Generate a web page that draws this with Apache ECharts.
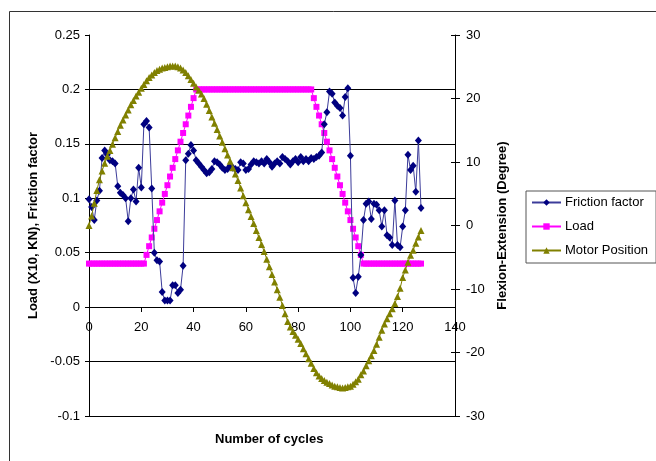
<!DOCTYPE html>
<html>
<head>
<meta charset="utf-8">
<script src="https://cdn.jsdelivr.net/npm/echarts@6/dist/echarts.min.js"></script>
<style>
  html, body { margin: 0; padding: 0; background: #fff; }
  #chart { width: 656px; height: 461px; }
</style>
</head>
<body>
<div id="chart"></div>
<script>
// friction factor per cycle (left axis)
const frictionFactor = [
  0.099, 0.092, 0.080, 0.098, 0.107, 0.137, 0.144, 0.140, 0.135, 0.134,
  0.132, 0.111, 0.105, 0.103, 0.100, 0.079, 0.100, 0.108, 0.097, 0.128,
  0.110, 0.168, 0.171, 0.165, 0.109, 0.050, 0.043, 0.042, 0.014, 0.006,
  0.006, 0.006, 0.020, 0.020, 0.013, 0.016, 0.038, 0.135, 0.141, 0.149,
  0.144, 0.135, 0.132, 0.129, 0.126, 0.123, 0.124, 0.127, 0.134, 0.133,
  0.131, 0.128, 0.126, 0.127, 0.130, 0.128, 0.127, 0.126, 0.133, 0.132,
  0.126, 0.127, 0.131, 0.134, 0.133, 0.132, 0.134, 0.132, 0.136, 0.133,
  0.129, 0.132, 0.134, 0.132, 0.138, 0.136, 0.134, 0.131, 0.134, 0.136,
  0.133, 0.138, 0.134, 0.136, 0.134, 0.137, 0.136, 0.138, 0.139, 0.142,
  0.168, 0.179, 0.198, 0.196, 0.188, 0.185, 0.183, 0.176, 0.193, 0.201,
  0.139, 0.027, 0.013, 0.028, 0.048, 0.080, 0.095, 0.097, 0.081, 0.095,
  0.094, 0.089, 0.074, 0.089, 0.066, 0.064, 0.057, 0.098, 0.057, 0.055,
  0.074, 0.089, 0.140, 0.126, 0.130, 0.106, 0.153, 0.091
];

// load (x10 kN) per cycle (left axis)
const load = [
  0.04, 0.04, 0.04, 0.04, 0.04, 0.04, 0.04, 0.04, 0.04, 0.04,
  0.04, 0.04, 0.04, 0.04, 0.04, 0.04, 0.04, 0.04, 0.04, 0.04,
  0.04, 0.04, 0.048, 0.056, 0.064, 0.072, 0.08, 0.088, 0.096, 0.104,
  0.112, 0.12, 0.128, 0.136, 0.144, 0.152, 0.16, 0.168, 0.176, 0.184,
  0.192, 0.2, 0.2, 0.2, 0.2, 0.2, 0.2, 0.2, 0.2, 0.2,
  0.2, 0.2, 0.2, 0.2, 0.2, 0.2, 0.2, 0.2, 0.2, 0.2,
  0.2, 0.2, 0.2, 0.2, 0.2, 0.2, 0.2, 0.2, 0.2, 0.2,
  0.2, 0.2, 0.2, 0.2, 0.2, 0.2, 0.2, 0.2, 0.2, 0.2,
  0.2, 0.2, 0.2, 0.2, 0.2, 0.2, 0.192, 0.184, 0.176, 0.168,
  0.16, 0.152, 0.144, 0.136, 0.128, 0.12, 0.112, 0.104, 0.096, 0.088,
  0.08, 0.072, 0.064, 0.056, 0.048, 0.04, 0.04, 0.04, 0.04, 0.04,
  0.04, 0.04, 0.04, 0.04, 0.04, 0.04, 0.04, 0.04, 0.04, 0.04,
  0.04, 0.04, 0.04, 0.04, 0.04, 0.04, 0.04, 0.04
];

// motor position in degrees per cycle (right axis)
const motorPosition = [
  0.0, 1.5, 3.5, 5.5, 7.2, 8.6, 9.8, 10.9, 11.8, 12.8,
  13.8, 14.8, 15.8, 16.6, 17.4, 18.2, 19.0, 19.7, 20.4, 21.0,
  21.6, 22.2, 22.8, 23.3, 23.7, 24.1, 24.4, 24.6, 24.8, 24.9,
  25.0, 25.1, 25.1, 25.1, 25.0, 24.8, 24.5, 24.1, 23.6, 23.0,
  22.4, 21.8, 21.3, 20.7, 20.0, 19.1, 18.1, 17.1, 16.1, 15.1,
  14.1, 13.1, 12.1, 11.1, 10.1, 9.1, 8.1, 7.1, 5.9, 4.7,
  3.6, 2.5, 1.4, 0.3, -0.8, -1.9, -3.0, -4.1, -5.3, -6.5,
  -7.7, -8.9, -10.1, -11.3, -12.6, -13.9, -15.1, -16.0, -16.7, -17.3,
  -17.9, -18.6, -19.4, -20.2, -21.0, -21.7, -22.5, -23.2, -23.7, -24.1,
  -24.4, -24.7, -24.9, -25.1, -25.3, -25.4, -25.5, -25.6, -25.5, -25.4,
  -25.3, -25.0, -24.6, -24.2, -23.5, -22.9, -22.1, -21.3, -20.5, -19.7,
  -18.7, -17.6, -16.5, -15.5, -14.7, -13.9, -13.1, -12.3, -11.2, -9.9,
  -8.2, -7.0, -5.8, -4.7, -3.9, -2.8, -1.8, -0.8
];

const cycles = frictionFactor.map((v, i) => i);

const font = 'Liberation Sans, Arial, sans-serif';

let myChart = echarts.init(document.getElementById('chart'), null, { renderer: 'canvas' });
let option;

option = {
  animation: false,
  backgroundColor: '#fff',
  textStyle: { fontFamily: font },
  grid: {
    left: 89,
    right: 201,
    top: 35,
    bottom: 45
  },
  graphic: [
    {
      type: 'rect',
      shape: { x: 9.5, y: 11.5, width: 700, height: 500 },
      style: { fill: 'none', stroke: '#333', lineWidth: 1 },
      silent: true,
      z: -10
    },
    {
      type: 'text',
      left: 215,
      top: 433,
      style: {
        text: 'Number of cycles',
        font: 'bold 13px ' + font,
        fill: '#000'
      }
    }
  ],
  legend: {
    orient: 'vertical',
    left: 526,
    top: 191,
    width: 130,
    padding: [5, 8, 6, 5],
    itemGap: 11,
    itemWidth: 29,
    itemHeight: 8,
    borderColor: '#555',
    borderWidth: 1,
    textStyle: { fontSize: 13, color: '#000', fontFamily: font, padding: [0, 0, 0, -1] },
    data: ['Friction factor', 'Load', 'Motor Position']
  },
  xAxis: {
    type: 'value',
    position: 'bottom',
    min: 0,
    max: 140,
    interval: 20,
    // the x axis crosses the left axis at 0, 109px above the plot bottom
    offset: -109,
    axisLine: { onZero: false, lineStyle: { color: '#000', width: 1 } },
    axisTick: { show: true, length: 5, lineStyle: { color: '#000' } },
    axisLabel: { color: '#000', fontSize: 13, margin: 14, fontFamily: font },
    splitLine: { show: false }
  },
  yAxis: [
    {
      type: 'value',
      position: 'left',
      min: -0.1,
      max: 0.25,
      interval: 0.05,
      name: 'Load (X10, KN), Friction factor',
      nameLocation: 'middle',
      nameRotate: 90,
      nameGap: 49,
      nameTextStyle: { fontWeight: 'bold', fontSize: 13, color: '#000', fontFamily: font },
      axisLine: { show: true, onZero: false, lineStyle: { color: '#000' } },
      axisTick: { show: true, length: 4, lineStyle: { color: '#000' } },
      axisLabel: { color: '#000', fontSize: 13, margin: 9, fontFamily: font },
      splitLine: { show: true, showMaxLine: false, lineStyle: { color: '#000', width: 1 } }
    },
    {
      type: 'value',
      position: 'right',
      min: -30,
      max: 30,
      interval: 10,
      name: 'Flexion-Extension (Degree)',
      nameLocation: 'middle',
      nameRotate: 90,
      nameGap: 34,
      nameTextStyle: { fontWeight: 'bold', fontSize: 13, color: '#000', fontFamily: font },
      axisLine: { show: true, onZero: false, lineStyle: { color: '#000' } },
      axisTick: { show: true, length: 5, lineStyle: { color: '#000' } },
      axisLabel: { color: '#000', fontSize: 13, margin: 11, fontFamily: font },
      splitLine: { show: false }
    },
    {
      // inner half of the crossing ticks on the right axis
      type: 'value',
      position: 'right',
      min: -30,
      max: 30,
      interval: 10,
      axisLine: { show: false, onZero: false },
      axisTick: { show: true, inside: true, length: 4, lineStyle: { color: '#000' } },
      axisLabel: { show: false },
      splitLine: { show: false }
    }
  ],
  series: [
    {
      name: 'Load',
      type: 'line',
      yAxisIndex: 0,
      data: cycles.map((c, i) => [c, load[i]]),
      symbol: 'rect',
      symbolSize: 6,
      itemStyle: { color: '#ff00ff' },
      lineStyle: { color: '#ff00ff', width: 1 },
      z: 2
    },
    {
      name: 'Friction factor',
      type: 'line',
      yAxisIndex: 0,
      data: cycles.map((c, i) => [c, frictionFactor[i]]),
      symbol: 'diamond',
      symbolSize: [7, 8],
      itemStyle: { color: '#000080' },
      lineStyle: { color: '#3c3c9a', width: 1 },
      z: 3
    },
    {
      name: 'Motor Position',
      type: 'line',
      yAxisIndex: 1,
      data: cycles.map((c, i) => [c, motorPosition[i]]),
      symbol: 'triangle',
      symbolSize: 7,
      itemStyle: { color: '#808000' },
      lineStyle: { color: '#808000', width: 1 },
      z: 4
    }
  ]
};

option && myChart.setOption(option);
</script>
</body>
</html>
